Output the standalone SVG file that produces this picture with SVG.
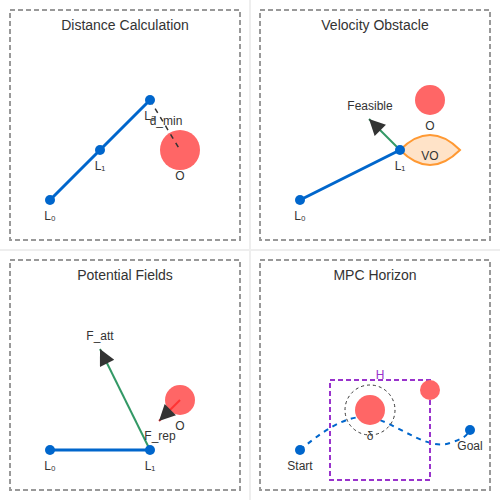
<svg xmlns="http://www.w3.org/2000/svg" width="500" height="500" viewBox="0 0 500 500">
<style>
.bg{fill:#eeeeee}
.panel{fill:#ffffff}
.frame{fill:none;stroke:#999999;stroke-width:2;stroke-dasharray:5,3}
.title{font-family:"Liberation Sans",Arial,sans-serif;font-size:14px;fill:#333333;text-anchor:middle}
.lbl{font-family:"Liberation Sans",Arial,sans-serif;font-size:12px;fill:#333333;text-anchor:middle}
.link{stroke:#0066cc;stroke-width:3;fill:none}
.joint{fill:#0066cc}
.obs{fill:#ff6666}
.force{stroke:#339966;stroke-width:2;fill:none}
</style>
<defs>
<marker id="arrow" viewBox="0 0 10 10" refX="10" refY="5" markerWidth="10" markerHeight="8" orient="auto" markerUnits="strokeWidth">
<path d="M0,0 L10,5 L0,10 z" fill="#333333"/>
</marker>
</defs>
<rect class="bg" x="0" y="0" width="500" height="500"/>
<rect class="panel" x="0" y="0" width="249" height="249"/>
<rect class="panel" x="251" y="0" width="249" height="249"/>
<rect class="panel" x="0" y="251" width="249" height="249"/>
<rect class="panel" x="251" y="251" width="249" height="249"/>

<g id="panel-distance">
<rect class="frame" x="10" y="10" width="230" height="230"/>
<text class="title" x="125" y="30">Distance Calculation</text>
<line class="link" x1="50" y1="200" x2="100" y2="150"/>
<line class="link" x1="100" y1="150" x2="150" y2="100"/>
<circle class="obs" cx="180" cy="150" r="20"/>
<line x1="150" y1="100" x2="180" y2="150" stroke="#333333" stroke-width="1.5" stroke-dasharray="5,5"/>
<circle class="joint" cx="50" cy="200" r="5"/>
<circle class="joint" cx="100" cy="150" r="5"/>
<circle class="joint" cx="150" cy="100" r="5"/>
<text class="lbl" x="50" y="220">L₀</text>
<text class="lbl" x="100" y="170">L₁</text>
<text class="lbl" x="150" y="120">L₂</text>
<text class="lbl" x="166" y="125">d_min</text>
<text class="lbl" x="180" y="180">O</text>
</g>

<g id="panel-velocity">
<rect class="frame" x="260" y="10" width="230" height="230"/>
<text class="title" x="375" y="30">Velocity Obstacle</text>
<line class="link" x1="300" y1="200" x2="400" y2="150"/>
<path d="M400,150 Q430,120 460,150 Q430,180 400,150 Z" fill="#ffe3c8" stroke="#ff9933" stroke-width="2"/>
<circle class="obs" cx="430" cy="100" r="15"/>
<line class="force" x1="400" y1="150" x2="369" y2="119" marker-end="url(#arrow)"/>
<circle class="joint" cx="300" cy="200" r="5"/>
<circle class="joint" cx="400" cy="150" r="5"/>
<text class="lbl" x="300" y="220">L₀</text>
<text class="lbl" x="400" y="170">L₁</text>
<text class="lbl" x="430" y="160">VO</text>
<text class="lbl" x="430" y="130">O</text>
<text class="lbl" x="370" y="110">Feasible</text>
</g>

<g id="panel-potential">
<rect class="frame" x="10" y="260" width="230" height="230"/>
<text class="title" x="125" y="280">Potential Fields</text>
<line class="link" x1="50" y1="450" x2="150" y2="450"/>
<circle class="obs" cx="180" cy="400" r="15"/>
<line class="force" x1="150" y1="450" x2="100" y2="349" marker-end="url(#arrow)"/>
<line x1="180" y1="400" x2="159" y2="421" stroke="#ff3333" stroke-width="2" marker-end="url(#arrow)"/>
<circle class="joint" cx="50" cy="450" r="5"/>
<circle class="joint" cx="150" cy="450" r="5"/>
<text class="lbl" x="50" y="470">L₀</text>
<text class="lbl" x="150" y="470">L₁</text>
<text class="lbl" x="100" y="340">F_att</text>
<text class="lbl" x="160" y="440">F_rep</text>
<text class="lbl" x="180" y="430">O</text>
</g>

<g id="panel-mpc">
<rect class="frame" x="260" y="260" width="230" height="230"/>
<text class="title" x="375" y="280">MPC Horizon</text>
<path d="M300,450 C330,425 355,410 380,420 S430,450 450,443 S465,435 470,430" fill="none" stroke="#0066cc" stroke-width="2" stroke-dasharray="5,5"/>
<rect x="330" y="380" width="100" height="100" fill="none" stroke="#9933cc" stroke-width="2" stroke-dasharray="5,3"/>
<circle class="obs" cx="370" cy="410" r="15"/>
<circle cx="370" cy="410" r="25" fill="none" stroke="#333333" stroke-width="1" stroke-dasharray="3,3"/>
<circle class="obs" cx="430" cy="390" r="10"/>
<circle class="joint" cx="300" cy="450" r="5"/>
<circle class="joint" cx="470" cy="430" r="5"/>
<text class="lbl" x="300" y="470">Start</text>
<text class="lbl" x="470" y="450">Goal</text>
<text class="lbl" x="380" y="379" style="fill:#9933cc">H</text>
<text class="lbl" x="370" y="440">δ</text>
</g>
</svg>
